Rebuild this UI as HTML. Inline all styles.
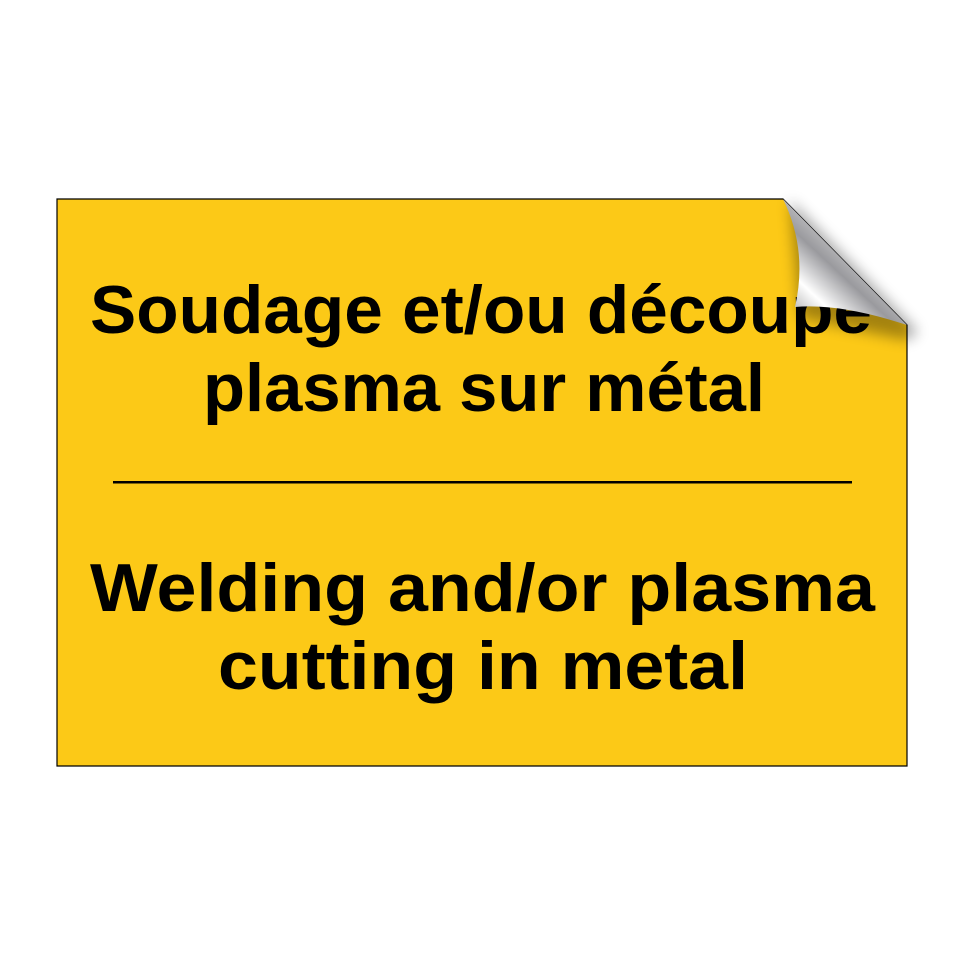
<!DOCTYPE html>
<html><head><style>html,body{margin:0;padding:0;background:#fff;}svg{display:block}</style></head>
<body>
<svg width="964" height="964" viewBox="0 0 964 964" xmlns="http://www.w3.org/2000/svg">
<defs>
<linearGradient id="g" x1="795" y1="310" x2="860" y2="240" gradientUnits="userSpaceOnUse">
<stop offset="0" stop-color="#bdbdbd"/>
<stop offset="0.25" stop-color="#ffffff"/>
<stop offset="0.6" stop-color="#9a9a9e"/>
<stop offset="1" stop-color="#d8d8d8"/>
</linearGradient>
<filter id="s" x="-50%" y="-50%" width="200%" height="200%"><feGaussianBlur stdDeviation="7"/></filter>
</defs>
<path d="M57,199 L783,199 L907,325 L907,766 L57,766 Z" fill="#fcc917" stroke="#000" stroke-width="1.2"/>
<g font-family="Liberation Sans, sans-serif" font-weight="bold" font-size="68" fill="#000">
<text x="90" y="333" textLength="782" lengthAdjust="spacingAndGlyphs">Soudage et/ou découpe</text>
<text x="203" y="411" textLength="562" lengthAdjust="spacingAndGlyphs">plasma sur métal</text>
<text x="90" y="611" textLength="785" lengthAdjust="spacingAndGlyphs">Welding and/or plasma</text>
<text x="218" y="689" textLength="530" lengthAdjust="spacingAndGlyphs">cutting in metal</text>
</g>
<rect x="113" y="481" width="739" height="2.5" fill="#000"/>
<path d="M790,200 L918,332 L907,340 L800,318 Z" fill="#000" opacity="0.35" filter="url(#s)"/>
<path d="M783,199 L907,325 Q840,303 795,307 Q808,250 783,199 Z" fill="url(#g)"/>
</svg>
</body></html>
